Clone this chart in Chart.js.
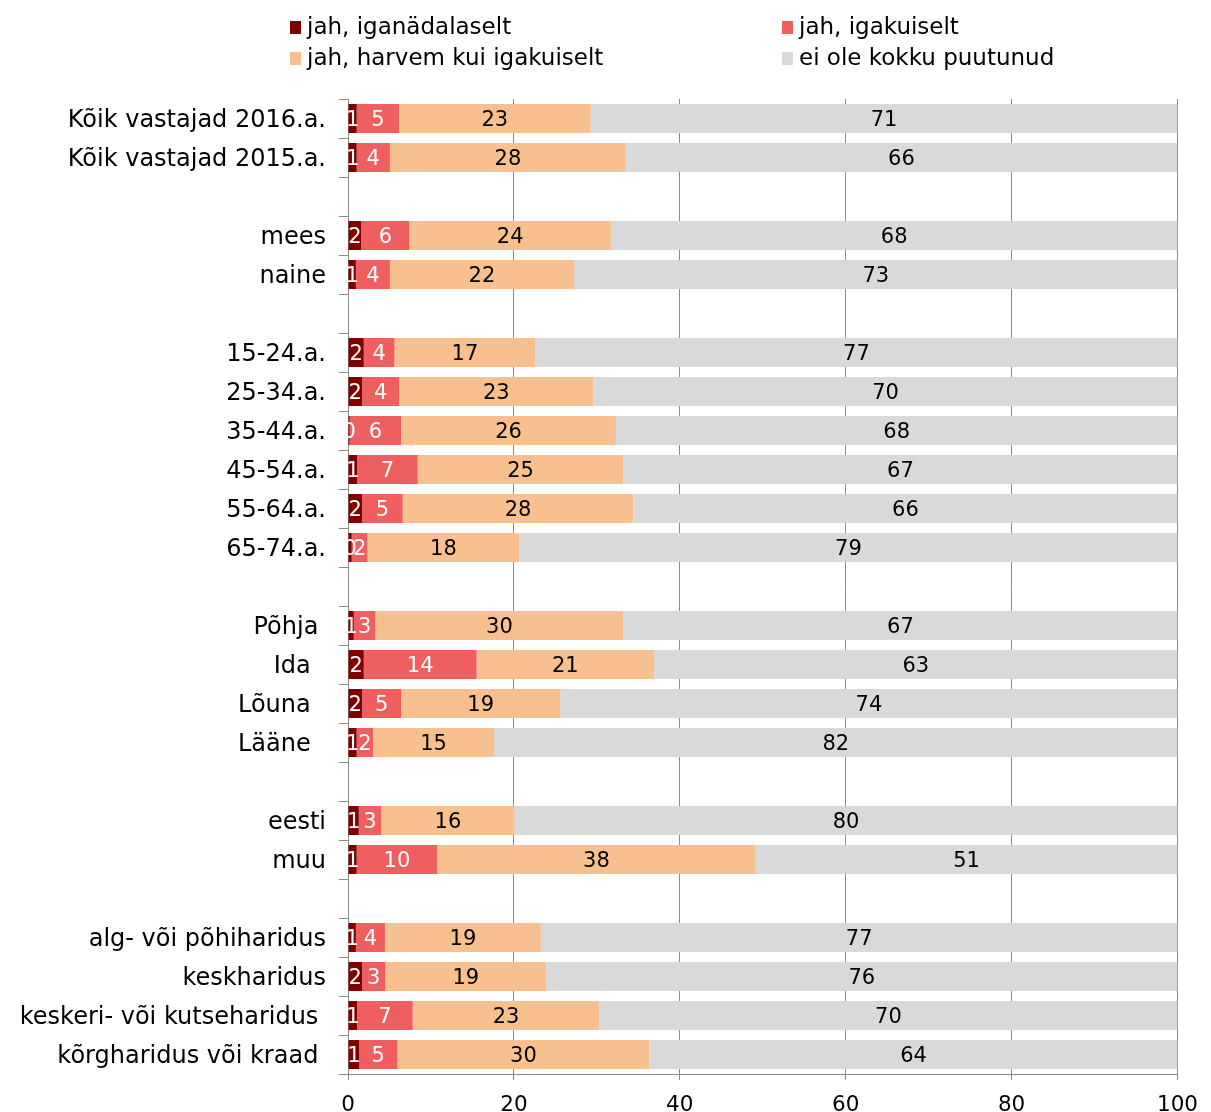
<!DOCTYPE html>
<html>
<head>
<meta charset="utf-8">
<script src="https://cdn.jsdelivr.net/npm/chart.js@4/dist/chart.umd.min.js"></script>
<style>
html,body{margin:0;padding:0;background:#fff;}
#wrap{width:1211px;height:1112px;}
</style>
</head>
<body>
<div id="wrap"><canvas id="c" width="1211" height="1112"></canvas></div>
<script>
const categories = [
  "Kõik vastajad 2016.a.", "Kõik vastajad 2015.a.", "",
  "mees", "naine", "",
  "15-24.a.", "25-34.a.", "35-44.a.", "45-54.a.", "55-64.a.", "65-74.a.", "",
  "Põhja ", "Ida  ", "Lõuna  ", "Lääne  ", "",
  "eesti", "muu", "",
  "alg- või põhiharidus", "keskharidus", "keskeri- või kutseharidus ", "kõrgharidus või kraad "
];
const seriesNames = ["jah, iganädalaselt", "jah, igakuiselt", "jah, harvem kui igakuiselt", "ei ole kokku puutunud"];
const weekly  = [1.05, 1.05, null, 1.6, 0.95, null, 1.9, 1.7, 0.2, 1.1, 1.7, 0.45, null, 0.7, 1.9, 1.7, 1.05, null, 1.3, 1.05, null, 0.95, 1.7, 1.1, 1.35];
const monthly = [5.1, 4.0, null, 5.8, 4.1, null, 3.7, 4.45, 6.2, 7.3, 4.9, 1.9, null, 2.6, 13.6, 4.7, 1.96, null, 2.7, 9.7, null, 3.5, 2.8, 6.7, 4.6];
const rarely  = [23.1, 28.45, null, 24.3, 22.2, null, 17.0, 23.45, 25.9, 24.8, 27.8, 18.3, null, 29.9, 21.4, 19.2, 14.6, null, 16.1, 38.4, null, 18.8, 19.4, 22.5, 30.4];
const never   = [70.75, 66.45, null, 68.3, 72.75, null, 77.4, 70.4, 67.7, 66.8, 65.6, 79.35, null, 66.8, 63.1, 74.4, 82.39, null, 79.9, 50.85, null, 76.75, 76.1, 69.7, 63.65];
const xTicks = [0, 20, 40, 60, 80, 100];

const colors = ["#7F0000", "#EF5F5F", "#F9C08F", "#D9D9D9"];
const labelColors = ["#ffffff", "#ffffff", "#000000", "#000000"];
const FONT = "DejaVu Sans";

const valueLabels = {
  id: "valueLabels",
  afterDatasetsDraw(chart) {
    const ctx = chart.ctx;
    const area = chart.chartArea;
    ctx.save();
    ctx.font = "21px '" + FONT + "'";
    ctx.textAlign = "center";
    ctx.textBaseline = "middle";
    chart.data.datasets.forEach((ds, di) => {
      const meta = chart.getDatasetMeta(di);
      meta.data.forEach((el, i) => {
        const v = ds.data[i];
        if (v === null || v === undefined) return;
        const p = el.getProps(["x", "y", "base"], true);
        const x1 = Math.min(p.x, area.right);
        ctx.fillStyle = labelColors[di];
        ctx.fillText(String(Math.round(v)), (x1 + p.base) / 2, p.y + 2);
      });
    });
    ctx.restore();
  }
};

const customLegend = {
  id: "customLegend",
  afterDraw(chart) {
    const ctx = chart.ctx;
    ctx.save();
    ctx.font = "23px '" + FONT + "'";
    ctx.textAlign = "left";
    ctx.textBaseline = "middle";
    const pos = [[290, 27], [782, 27], [290, 58], [782, 58]];
    seriesNames.forEach((n, i) => {
      const [x, y] = pos[i];
      ctx.fillStyle = colors[i];
      ctx.fillRect(x, y - 6, 11, 13);
      ctx.fillStyle = "#000";
      ctx.fillText(n, x + 17, y + 1);
    });
    ctx.restore();
  }
};

const datasets = [weekly, monthly, rarely, never].map((d, i) => ({
  label: seriesNames[i],
  data: d,
  backgroundColor: colors[i],
  borderWidth: 0,
  categoryPercentage: 1,
  barPercentage: 0.74
}));

new Chart(document.getElementById("c"), {
  type: "bar",
  data: { labels: categories, datasets },
  plugins: [valueLabels, customLegend],
  options: {
    indexAxis: "y",
    responsive: false,
    animation: false,
    devicePixelRatio: 1,
    layout: { padding: { top: 99, right: 33, bottom: 0, left: 0 } },
    plugins: { legend: { display: false }, tooltip: { enabled: false } },
    scales: {
      x: {
        stacked: true,
        min: 0, max: 100,
        afterBuildTicks(scale) { scale.ticks = xTicks.map(v => ({ value: v })); },
        afterFit(scale) { scale.height = 38; },
        grid: { color: "#8C8C8C", lineWidth: 1, drawTicks: true, tickLength: 6, tickColor: "#8C8C8C" },
        border: { display: true, color: "#8C8C8C", width: 1 },
        ticks: { color: "#000", font: { family: FONT, size: 21.5 }, padding: 13, maxRotation: 0 }
      },
      y: {
        stacked: true,
        afterFit(scale) { scale.width = 348; },
        grid: { offset: true, drawOnChartArea: false, drawTicks: true, tickLength: 9, color: "#8C8C8C" },
        border: { display: true, color: "#8C8C8C", width: 1 },
        ticks: { color: "#000", font: { family: FONT, size: 24 }, padding: 13, autoSkip: false, labelOffset: 2.5 }
      }
    }
  }
});
</script>
</body>
</html>
